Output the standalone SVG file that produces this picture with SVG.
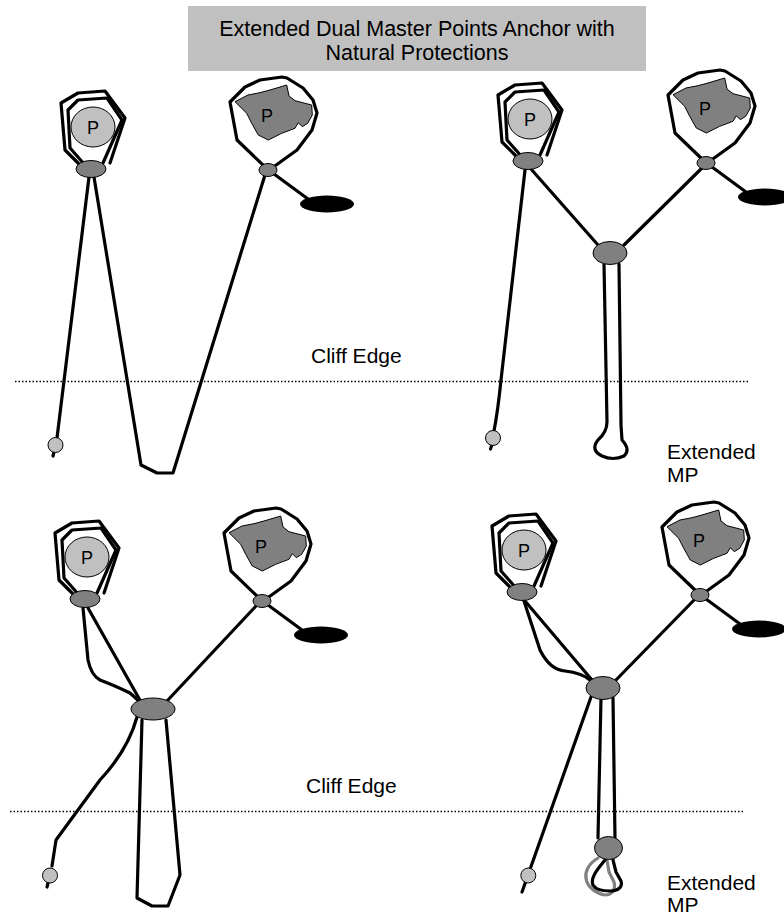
<svg xmlns="http://www.w3.org/2000/svg" width="784" height="916" viewBox="0 0 784 916">
  <style>
    .rope{fill:none;stroke:#000;stroke-width:3.2;stroke-linejoin:round;stroke-linecap:round}
    .grey-rope{fill:none;stroke:#808080;stroke-width:3.2;stroke-linejoin:round;stroke-linecap:round}
    .mp{fill:#808080;stroke:#000;stroke-width:1}
    .pro{fill:#c0c0c0;stroke:#000;stroke-width:1}
    .rock{fill:#808080;stroke:#000;stroke-width:1;stroke-linejoin:round}
    .nut{fill:#000}
    .end{fill:#c0c0c0;stroke:#000;stroke-width:1}
    .lbl{font-family:"Liberation Sans",Arial,sans-serif;font-size:21px;fill:#000}
    .title{font-family:"Liberation Sans",Arial,sans-serif;font-size:21.5px;fill:#000;text-anchor:middle}
    .plbl{font-family:"Liberation Sans",Arial,sans-serif;font-size:18px;fill:#000;text-anchor:middle}
    .edge{fill:none;stroke:#000;stroke-width:1.5;stroke-dasharray:1.5 2}
  </style>
  <defs>
    <!-- tree / boulder wrapped with a doubled sling, master point below -->
    <g id="tree-anchor">
      <path class="rope" d="M80,165 L65,150 L61,103 L78,93 L105,91 L125,118 L110,163"/>
      <path class="rope" d="M85,165 L70,148 L68,110 L78,100 L107,98 L122,120 L103,163"/>
      <ellipse class="pro" cx="93" cy="127" rx="22" ry="20"/>
      <text class="plbl" x="93" y="133.5">P</text>
      <ellipse class="mp" cx="91" cy="169" rx="15" ry="8.5"/>
    </g>
    <!-- rock horn with a sling loop, tether to a back-up piece -->
    <g id="rock-anchor">
      <path class="rope" d="M265,167 L237,140 L230,102 L245,87 L260,80 L282,77 L287,78 L303,88 L313,100 L317,113 L312,130 L297,150 L272,168"/>
      <path class="rock" d="M235,101.7 L248,95 L260,92.7 L270,90 L286.7,85 L289,96 L295,100.7 L311.7,105 L312.3,115 L307.7,123.3 L302.3,126.7 L298.3,122.7 L295,128.3 L281.7,133.3 L268.3,140 L258.3,135 L251.7,123.3 L246.7,113.3 Z"/>
      <text class="plbl" x="267" y="121.5">P</text>
      <path class="rope" d="M274,174 L308,199"/>
      <ellipse class="nut" cx="327" cy="204" rx="27" ry="8.5"/>
      <ellipse class="mp" cx="268" cy="170" rx="9" ry="6.5"/>
    </g>
  </defs>

  <rect x="188" y="6" width="458" height="65" fill="#c0c0c0"/>
  <text class="title" x="417" y="36">Extended Dual Master Points Anchor with</text>
  <text class="title" x="417" y="60">Natural Protections</text>

  <!-- cliff edges -->
  <path class="edge" d="M15,381.5 H749"/>
  <path class="edge" d="M10,811.5 H743"/>
  <text class="lbl" x="311" y="363">Cliff Edge</text>
  <text class="lbl" x="306" y="793">Cliff Edge</text>
  <text class="lbl" x="667" y="459">Extended</text>
  <text class="lbl" x="667" y="482">MP</text>
  <text class="lbl" x="667" y="890">Extended</text>
  <text class="lbl" x="667" y="912">MP</text>

  <g id="connectors">
    <!-- panel 1 -->
    <path class="rope" d="M89,177 L57,438"/>
    <path class="rope" d="M54,452 L53,456"/>
    <path class="rope" d="M94,177 L141,465 L157,473 L173,473 L265,175"/>
    <!-- panel 2 -->
    <path class="rope" d="M525,170 L501,380 Q498,410 494,431"/>
    <path class="rope" d="M491.5,446 L490.5,449"/>
    <path class="rope" d="M531,169 L598,245"/>
    <path class="rope" d="M703,167 L624,245"/>
    <path class="rope" d="M604,264 L607,422 Q607,432 598,440 Q590,450 602,456 Q613,461 624,456 Q631,450 622,440 L621,425 L619,264"/>
    <!-- panel 3 -->
    <path class="rope" d="M256,606 L167,701"/>
    <path class="rope" d="M88,608 L141,702"/>
    <path class="rope" d="M83,608 L88,660 Q91,675 100,680 Q118,687 130,693 L140,702"/>
    <path class="rope" d="M137,717 Q128,750 100,780 L56,840 L52,866"/>
    <path class="rope" d="M48,883 L47,887"/>
    <path class="rope" d="M142,720 L137,898 L152,906 L168,906 L180,875 L166,720"/>
    <!-- panel 4 -->
    <path class="rope" d="M697,597 L615,681"/>
    <path class="rope" d="M525,601 L592,680"/>
    <path class="rope" d="M524,601 L540,650 Q550,670 565,671 Q582,673 590,680"/>
    <path class="rope" d="M591,697 L522,892"/>
    <path class="rope" d="M601,698 L598,838"/>
    <path class="rope" d="M613,698 L615,838"/>
    <path class="grey-rope" d="M598,858 C588,864 585,872 586,878 C587,888 598,894 605,895 C612,895 616,889 614,882 L609,872 L607,860"/>
    <path class="rope" d="M605,860 C597,870 590,878 593,885 C596,890 605,891 610,891 C618,891 623,887 621,881 L616,872 L613,860"/>
  </g>

  <!-- panel 1 nodes -->
  <use id="p1-tree" href="#tree-anchor"/>
  <use id="p1-rock" href="#rock-anchor"/>
  <circle id="p1-end" class="end" cx="55.5" cy="445" r="7.5"/>

  <!-- panel 2 nodes -->
  <use id="p2-tree" href="#tree-anchor" transform="translate(437,-8)"/>
  <use id="p2-rock" href="#rock-anchor" transform="translate(438,-7)"/>
  <ellipse id="p2-mp" class="mp" cx="610" cy="253" rx="17" ry="11.5"/>
  <circle id="p2-end" class="end" cx="493" cy="438" r="7.5"/>

  <!-- panel 3 nodes -->
  <use id="p3-tree" href="#tree-anchor" transform="translate(-6,430)"/>
  <use id="p3-rock" href="#rock-anchor" transform="translate(-6,431)"/>
  <ellipse id="p3-mp" class="mp" cx="153" cy="709" rx="22" ry="11"/>
  <circle id="p3-end" class="end" cx="50" cy="875.5" r="7.5"/>

  <!-- panel 4 nodes -->
  <use id="p4-tree" href="#tree-anchor" transform="translate(431,423)"/>
  <use id="p4-rock" href="#rock-anchor" transform="translate(432,425)"/>
  <ellipse id="p4-mp" class="mp" cx="603" cy="688" rx="17" ry="11.5"/>
  <ellipse id="p4-ext-mp" class="mp" cx="608.5" cy="848" rx="14" ry="11.5"/>
  <circle id="p4-end" class="end" cx="528.3" cy="875.5" r="7.5"/>
</svg>
